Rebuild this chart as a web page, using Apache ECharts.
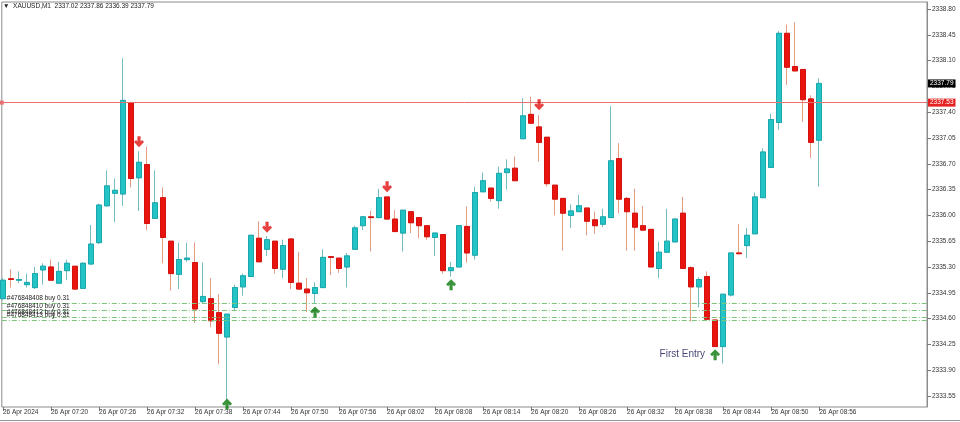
<!DOCTYPE html>
<html><head><meta charset="utf-8">
<script src="https://cdn.jsdelivr.net/npm/echarts@6/dist/echarts.min.js"></script>
<style>html,body{margin:0;padding:0;background:#fff}#c{width:960px;height:422px}</style>
</head><body><div id="c"></div>
<script>
const times = ['07:14','07:15','07:16','07:17','07:18','07:19','07:20','07:21','07:22','07:23','07:24','07:25','07:26','07:27','07:28','07:29','07:30','07:31','07:32','07:33','07:34','07:35','07:36','07:37','07:38','07:39','07:40','07:41','07:42','07:43','07:44','07:45','07:46','07:47','07:48','07:49','07:50','07:51','07:52','07:53','07:54','07:55','07:56','07:57','07:58','07:59','08:00','08:01','08:02','08:03','08:04','08:05','08:06','08:07','08:08','08:09','08:10','08:11','08:12','08:13','08:14','08:15','08:16','08:17','08:18','08:19','08:20','08:21','08:22','08:23','08:24','08:25','08:26','08:27','08:28','08:29','08:30','08:31','08:32','08:33','08:34','08:35','08:36','08:37','08:38','08:39','08:40','08:41','08:42','08:43','08:44','08:45','08:46','08:47','08:48','08:49','08:50','08:51','08:52','08:53','08:54','08:55','08:56'];
const open = [2334.87,2335.14,2335.12,2335.06,2335.02,2335.26,2335.30,2335.08,2335.25,2335.31,2335.01,2335.34,2335.63,2336.13,2336.30,2336.29,2337.53,2336.51,2336.69,2335.96,2336.24,2335.65,2335.20,2335.40,2335.36,2334.83,2334.87,2334.68,2334.35,2334.75,2335.03,2335.17,2335.69,2335.54,2335.65,2335.27,2335.68,2335.08,2335.00,2334.94,2335.02,2335.44,2335.42,2335.30,2335.54,2335.86,2335.98,2335.97,2336.25,2335.95,2335.76,2336.05,2335.97,2335.86,2335.70,2335.74,2335.25,2335.30,2335.85,2335.46,2336.32,2336.37,2336.20,2336.58,2336.64,2337.04,2337.37,2337.20,2337.06,2336.41,2336.23,2336.00,2336.05,2336.10,2335.94,2335.88,2335.97,2336.77,2336.23,2336.03,2335.86,2335.81,2335.28,2335.50,2335.64,2336.03,2335.29,2335.03,2335.17,2334.58,2334.22,2334.92,2335.49,2335.59,2335.75,2336.24,2336.65,2337.26,2338.47,2338.02,2337.98,2337.58,2337.02];
const high = [2335.15,2335.27,2335.24,2335.21,2335.30,2335.35,2335.40,2335.37,2335.40,2335.31,2335.36,2335.87,2336.16,2336.61,2336.50,2338.13,2337.54,2336.87,2336.93,2336.61,2336.38,2335.65,2335.63,2335.63,2335.63,2335.36,2335.15,2334.93,2334.66,2335.06,2335.21,2335.73,2335.92,2335.72,2335.65,2335.67,2335.68,2335.50,2335.15,2335.09,2335.54,2335.45,2335.42,2335.49,2335.86,2335.99,2336.06,2336.36,2336.25,2336.07,2336.07,2336.05,2335.97,2335.86,2335.76,2335.74,2335.37,2335.86,2336.12,2336.39,2336.58,2336.37,2336.66,2336.76,2336.80,2337.59,2337.61,2337.36,2337.06,2336.41,2336.23,2336.15,2336.28,2336.10,2336.05,2336.09,2337.48,2336.98,2336.25,2336.36,2336.13,2335.81,2335.64,2336.09,2335.95,2336.25,2335.31,2335.16,2335.24,2334.58,2334.93,2335.49,2335.88,2335.83,2336.31,2336.91,2337.38,2338.50,2338.59,2338.62,2337.98,2337.63,2337.86];
const low = [2334.85,2335.02,2335.08,2335.02,2335.00,2335.06,2335.12,2335.08,2335.12,2334.99,2335.01,2335.33,2335.61,2336.12,2335.91,2336.13,2336.38,2336.06,2335.80,2335.96,2335.35,2334.98,2335.00,2335.37,2334.54,2334.80,2334.48,2333.98,2333.50,2334.70,2334.91,2335.17,2335.37,2335.45,2335.21,2335.15,2335.00,2335.00,2334.69,2334.81,2335.02,2335.19,2335.22,2335.02,2335.54,2335.80,2335.51,2335.96,2335.94,2335.78,2335.51,2335.76,2335.69,2335.67,2335.45,2335.21,2335.17,2335.30,2335.36,2335.40,2336.32,2336.19,2336.09,2336.35,2336.47,2337.04,2337.25,2336.73,2336.39,2336.00,2335.52,2335.83,2336.05,2335.73,2335.75,2335.84,2335.97,2336.03,2335.52,2335.52,2335.80,2335.30,2335.15,2335.50,2335.64,2335.28,2334.56,2334.75,2334.59,2334.22,2333.99,2334.90,2335.47,2335.42,2335.75,2336.24,2336.65,2337.16,2337.77,2337.96,2337.27,2336.78,2336.39];
const close = [2335.12,2335.13,2335.13,2335.09,2335.21,2335.31,2335.12,2335.24,2335.35,2335.00,2335.35,2335.61,2336.14,2336.40,2336.34,2337.56,2336.50,2336.72,2335.89,2336.17,2335.70,2335.21,2335.40,2335.42,2334.73,2334.90,2334.57,2334.40,2334.66,2335.02,2335.18,2335.73,2335.37,2335.67,2335.28,2335.59,2335.09,2335.00,2334.95,2335.02,2335.43,2335.43,2335.28,2335.45,2335.83,2335.98,2335.97,2336.24,2335.95,2335.78,2336.07,2335.90,2335.86,2335.71,2335.76,2335.25,2335.29,2335.86,2335.49,2336.31,2336.47,2336.23,2336.57,2336.63,2336.47,2337.35,2337.25,2336.99,2336.43,2336.22,2336.03,2336.06,2336.13,2335.92,2335.86,2335.98,2336.74,2336.22,2336.05,2335.84,2335.80,2335.30,2335.50,2335.65,2335.95,2335.28,2335.03,2335.13,2334.59,2334.22,2334.93,2335.49,2335.48,2335.73,2336.25,2336.86,2337.30,2338.47,2338.01,2337.96,2337.57,2336.99,2337.79];

const yTicks = [2333.55,2333.90,2334.25,2334.60,2334.95,2335.30,2335.65,2336.00,2336.35,2336.70,2337.05,2337.40,2337.75,2338.10,2338.45,2338.80];
const xTickIndex = [0,6,12,18,24,30,36,42,48,54,60,66,72,78,84,90,96,102];
const xTickLabels = ['26 Apr 2024','26 Apr 07:20','26 Apr 07:26','26 Apr 07:32','26 Apr 07:38','26 Apr 07:44','26 Apr 07:50','26 Apr 07:56','26 Apr 08:02','26 Apr 08:08','26 Apr 08:14','26 Apr 08:20','26 Apr 08:26','26 Apr 08:32','26 Apr 08:38','26 Apr 08:44','26 Apr 08:50','26 Apr 08:56'];

const sellSignals = [[17,2337.00],[33,2335.84],[48,2336.39],[67,2337.50]];
const buySignals = [[28,2333.44],[39,2334.69],[56,2335.06],[89,2334.11]];
const entryLabel = 'First Entry';
const orderLevels = [2334.81,2334.71,2334.62,2334.58];
const orderLabels = ['#476848408 buy 0.31','#476848410 buy 0.31','#476848412 buy 0.31','#476848413 buy 0.31'];
const stopLevel = 2337.53;
const lastPrice = 2337.79;
const symbolName = 'XAUUSD,M1';

const FONT = '"Liberation Sans", Arial, sans-serif';
const UP = '#22c4c6', DOWN = '#e8140e';
const candles = open.map((o, i) => [i, o, close[i], low[i], high[i]]);
const bodies = open.map((o, i) => [i, o, close[i], Math.min(o, close[i]), Math.max(o, close[i])]);
const L = open.length - 1;
const arrowPath = 'path://M5,0L10,5.2L8,7.1L6.6,5.6L6.6,11L3.4,11L3.4,5.6L2,7.1L0,5.2Z';

const chart = echarts.init(document.getElementById('c'), null, {renderer: 'canvas'});
chart.setOption({
  animation: false,
  backgroundColor: '#fff',
  title: {
    text: '▼  ' + symbolName + '  ' + [open[L], high[L], low[L], close[L]].map(v => v.toFixed(2)).join(' '),
    left: 3, top: 3, padding: 0,
    textStyle: {fontSize: 6.5, fontWeight: 'normal', color: '#222', fontFamily: FONT}
  },
  grid: {left: 0, top: 2, width: 927, height: 405, show: true, borderColor: '#8c8c8c', borderWidth: 1, backgroundColor: '#fff'},
  xAxis: {
    type: 'value', min: -0.15, max: 115.48,
    axisLine: {show: false, onZero: false},
    splitLine: {show: false},
    axisTick: {show: true, customValues: xTickIndex, length: 4, lineStyle: {color: '#777'}},
    axisLabel: {
      customValues: xTickIndex,
      formatter: v => xTickLabels[xTickIndex.indexOf(Math.round(v))] || '',
      align: 'left', margin: 2, fontSize: 6.5, color: '#333', fontFamily: FONT
    }
  },
  yAxis: {
    type: 'value', position: 'right', min: 2333.40, max: 2338.895,
    axisLine: {show: true, onZero: false, lineStyle: {color: '#8c8c8c'}},
    splitLine: {show: false},
    axisTick: {show: true, customValues: yTicks, length: 4, lineStyle: {color: '#777'}},
    axisLabel: {customValues: yTicks, formatter: v => v.toFixed(2), margin: 5, fontSize: 6.5, color: '#333', fontFamily: FONT}
  },
  series: [
    {
      type: 'candlestick', name: 'wicks', data: candles, barWidth: 5,
      itemStyle: {color: UP, color0: DOWN, borderColor: '#74bcc2', borderColor0: '#e39a80', borderWidth: 1},
      markLine: {
        silent: true, symbol: 'none', animation: false,
        data: [
          ...orderLevels.map((v, k) => ({
            yAxis: v,
            lineStyle: {color: '#7cc47c', type: [5, 2, 1, 2], width: 1},
            label: {show: true, position: 'insideStartTop', formatter: orderLabels[k], color: '#222', fontSize: 6.5, fontFamily: FONT, distance: [5, 1]}
          })),
          {
            yAxis: stopLevel, symbol: ['emptyCircle', 'none'], symbolSize: 4,
            lineStyle: {color: '#e87070', type: 'solid', width: 1},
            label: {show: true, position: 'end', formatter: stopLevel.toFixed(2), backgroundColor: '#e52222', color: '#fff', padding: [1, 2, 0, 2], fontSize: 6.5, fontFamily: FONT, distance: 1}
          },
          {
            yAxis: lastPrice,
            lineStyle: {color: 'rgba(0,0,0,0)', width: 1},
            label: {show: true, position: 'end', formatter: lastPrice.toFixed(2), backgroundColor: '#000', color: '#fff', padding: [1, 2, 0, 2], fontSize: 6.5, fontFamily: FONT, distance: 1}
          }
        ]
      }
    },
    {
      type: 'candlestick', name: 'bodies', data: bodies, barWidth: 5,
      itemStyle: {color: UP, color0: DOWN, borderColor: '#1aa8ac', borderColor0: '#d51010', borderWidth: 1}
    },
    {
      type: 'scatter', name: 'sell', data: sellSignals, symbol: arrowPath, symbolRotate: 180, symbolSize: [10, 11],
      itemStyle: {color: '#e01010'}, z: 5
    },
    {
      type: 'scatter', name: 'buy', symbol: arrowPath, symbolSize: [10, 11], itemStyle: {color: '#0a780a'}, z: 5,
      data: buySignals.map((p, k) => k === buySignals.length - 1 ? {
        value: p,
        label: {show: true, position: 'left', distance: 5, formatter: entryLabel, color: '#141452', fontSize: 10, fontFamily: FONT}
      } : p)
    }
  ],
  graphic: [
    {type: 'line', shape: {x1: 0, y1: 420.5, x2: 960, y2: 420.5}, style: {stroke: '#999', lineWidth: 1}}
  ]
});
</script>
</body></html>
